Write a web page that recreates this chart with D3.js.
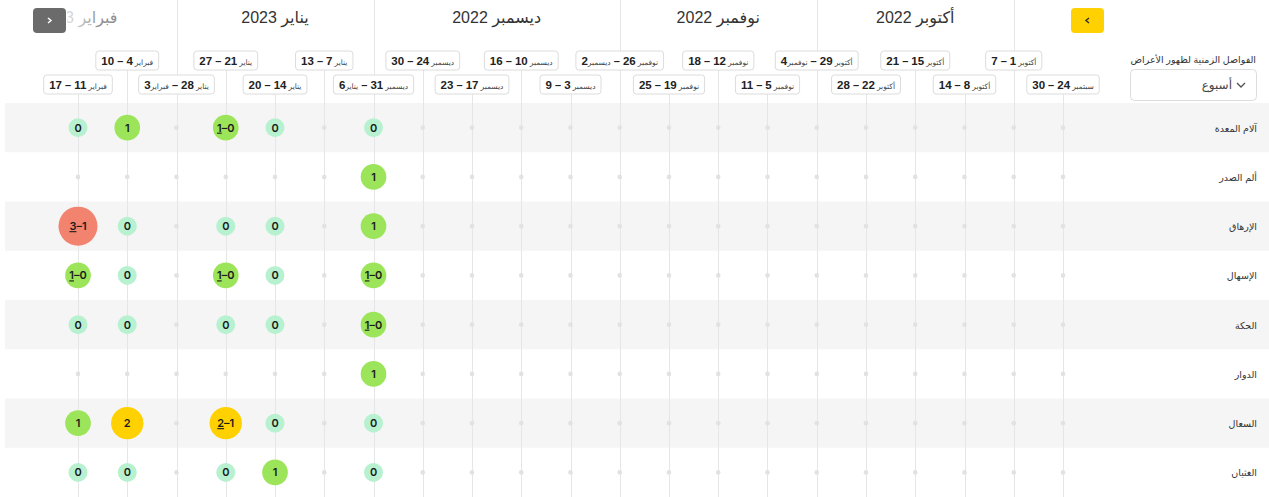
<!DOCTYPE html>
<html lang="ar">
<head>
<meta charset="utf-8">
<script src="https://cdn.jsdelivr.net/npm/d3@7/dist/d3.min.js"></script>
<style>
	body { margin: 0; background: #fff; }
	svg { display: block; font-family: 'Liberation Sans', 'DejaVu Sans', sans-serif; }
</style>
</head>
<body>
<div id="chart"></div>
<script>
// symptoms, top to bottom
var symptoms = ['آلام المعدة', 'ألم الصدر', 'الإرهاق', 'الإسهال', 'الحكة', 'الدوار', 'السعال', 'الغثيان'];

// weeks, oldest first (rightmost in the picture)
var weekStartMonth = ['سبتمبر', 'أكتوبر', 'أكتوبر', 'أكتوبر', 'أكتوبر', 'أكتوبر', 'نوفمبر', 'نوفمبر', 'نوفمبر', 'نوفمبر',
	'ديسمبر', 'ديسمبر', 'ديسمبر', 'ديسمبر', 'ديسمبر', 'يناير', 'يناير', 'يناير', 'يناير', 'فبراير', 'فبراير'];
var weekStartDay = [24, 1, 8, 15, 22, 29, 5, 12, 19, 26, 3, 10, 17, 24, 31, 7, 14, 21, 28, 4, 11];
var weekEndMonth = [null, null, null, null, null, 'نوفمبر', null, null, null, 'ديسمبر',
	null, null, null, null, 'يناير', null, null, null, 'فبراير', null, null];
var weekEndDay = [30, 7, 14, 21, 28, 4, 11, 18, 25, 2, 9, 16, 23, 30, 6, 13, 20, 27, 3, 10, 17];

// month headers and the week where each month starts
var monthLabels = ['أكتوبر 2022', 'نوفمبر 2022', 'ديسمبر 2022', 'يناير 2023', 'فبراير 2023'];
var monthStartWeek = [1, 5, 9, 14, 18];

// reported severity per week as [max, min], null = no entry
var stomachPain = [null, null, null, null, null, null, null, null, null, null, null, null, null, null, [0, 0], null, [0, 0], [1, 0], null, [1, 1], [0, 0]];
var chestPain   = [null, null, null, null, null, null, null, null, null, null, null, null, null, null, [1, 1], null, null, null, null, null, null];
var fatigue     = [null, null, null, null, null, null, null, null, null, null, null, null, null, null, [1, 1], null, [0, 0], [0, 0], null, [0, 0], [3, 1]];
var diarrhea    = [null, null, null, null, null, null, null, null, null, null, null, null, null, null, [1, 0], null, [0, 0], [1, 0], null, [0, 0], [1, 0]];
var itching     = [null, null, null, null, null, null, null, null, null, null, null, null, null, null, [1, 0], null, [0, 0], [0, 0], null, [0, 0], [0, 0]];
var dizziness   = [null, null, null, null, null, null, null, null, null, null, null, null, null, null, [1, 1], null, null, null, null, null, null];
var cough       = [null, null, null, null, null, null, null, null, null, null, null, null, null, null, [0, 0], null, [0, 0], [2, 1], null, [2, 2], [1, 1]];
var nausea      = [null, null, null, null, null, null, null, null, null, null, null, null, null, null, [0, 0], null, [1, 1], [0, 0], null, [0, 0], [0, 0]];

var severity = [stomachPain, chestPain, fatigue, diarrhea, itching, dizziness, cough, nausea];

var severityColors = ['#b7f1d0', '#9ce55a', '#ffd100', '#f2836f'];

var TimelineChart = function (el) {
	'use strict';

	this.width = 1269;
	this.height = 497;
	this.scales = this.setScales();
	this.svg = d3.select(el).append('svg')
		.attr('width', this.width)
		.attr('height', this.height);

	this.addBands();
	this.addGridLines();
	this.addMonths();
	this.addWeekLabels();
	this.addRowLabels();
	this.addCells();
	this.addControls();
};

TimelineChart.prototype = {
	bodyTop: 103,

	setScales: function () {
		return {
			x: d3.scaleLinear().domain([0, weekStartDay.length - 1]).range([1063, 78]),
			y: d3.scaleBand().domain(symptoms).range([this.bodyTop, this.height]),
			r: d3.scaleLinear().domain([0, 3]).range([9.5, 19.5]),
			color: d3.scaleOrdinal().domain([0, 1, 2, 3]).range(severityColors)
		};
	},

	boxTop: function (i) {
		// newest week sits in the lower row, rows alternate from there
		return (weekStartDay.length - 1 - i) % 2 === 0 ? 75 : 51;
	},

	addBands: function () {
		var y = this.scales.y;
		this.svg.append('g')
			.selectAll('rect')
			.data(symptoms.filter(function (d, i) { return i % 2 === 0; }))
			.enter().append('rect')
				.attr('x', 5)
				.attr('y', function (d) { return y(d); })
				.attr('width', this.width - 5)
				.attr('height', y.bandwidth())
				.attr('fill', '#f5f5f5');
	},

	addGridLines: function () {
		var that = this, x = this.scales.x;
		var g = this.svg.append('g').attr('stroke', '#e6e6e6').attr('stroke-width', 1);
		g.selectAll('.week-line')
			.data(weekStartDay)
			.enter().append('line')
				.attr('class', 'week-line')
				.attr('x1', function (d, i) { return Math.round(x(i)) + 0.5; })
				.attr('x2', function (d, i) { return Math.round(x(i)) + 0.5; })
				.attr('y1', function (d, i) { return that.boxTop(i) + 19; })
				.attr('y2', this.height);
		g.selectAll('.month-line')
			.data(monthStartWeek)
			.enter().append('line')
				.attr('class', 'month-line')
				.attr('x1', function (d) { return Math.round(x(d)) + 0.5; })
				.attr('x2', function (d) { return Math.round(x(d)) + 0.5; })
				.attr('y1', 0)
				.attr('y2', function (d) { return that.boxTop(d); });
	},

	addMonths: function () {
		var x = this.scales.x, last = monthLabels.length - 1;
		var defs = this.svg.append('defs');
		var grad = defs.append('linearGradient')
			.attr('id', 'fade')
			.attr('gradientUnits', 'userSpaceOnUse')
			.attr('x1', 66).attr('x2', 100).attr('y1', 0).attr('y2', 0);
		grad.append('stop').attr('offset', 0).attr('stop-color', '#dedede');
		grad.append('stop').attr('offset', 0.35).attr('stop-color', '#cbcbcb');
		grad.append('stop').attr('offset', 1).attr('stop-color', '#8f8f8f');

		// the newest month header is sticky and scrolls under the left button
		defs.append('clipPath').attr('id', 'header-clip')
			.append('rect').attr('x', 67).attr('y', 0).attr('width', 200).attr('height', 40);

		this.svg.append('g')
			.selectAll('text')
			.data(monthLabels)
			.enter().append('text')
				.attr('x', function (d, i) {
					if (i === last) { return x(monthStartWeek[i]) - 59; }
					return x((monthStartWeek[i] + monthStartWeek[i + 1]) / 2);
				})
				.attr('y', 23)
				.attr('text-anchor', function (d, i) { return i === last ? 'start' : 'middle'; })
				.style('direction', 'rtl')
				.attr('font-size', 16)
				.attr('fill', function (d, i) { return i === last ? 'url(#fade)' : '#333'; })
				.attr('clip-path', function (d, i) { return i === last ? 'url(#header-clip)' : null; })
				.text(function (d) { return d; });
	},

	addWeekLabels: function () {
		var that = this, x = this.scales.x;
		var groups = this.svg.append('g')
			.selectAll('g')
			.data(weekStartDay)
			.enter().append('g')
				.attr('transform', function (d, i) { return 'translate(' + x(i) + ',' + that.boxTop(i) + ')'; });

		var box = groups.append('rect')
			.attr('y', 0)
			.attr('height', 19)
			.attr('rx', 3)
			.attr('fill', '#fff')
			.attr('stroke', '#dcdcdc');

		var label = groups.append('text')
			.attr('y', 13.5)
			.attr('text-anchor', 'middle')
			.style('direction', 'rtl')
			.attr('fill', '#222');

		label.each(function (d, i) {
			var t = d3.select(this);
			t.append('tspan').attr('font-size', 7.5).attr('fill', '#444').text(weekStartMonth[i] + ' ');
			t.append('tspan').attr('font-size', 11.5).attr('font-weight', 'bold').text(d);
			t.append('tspan').attr('font-size', 11).attr('font-weight', 'bold').text(' – ');
			if (weekEndMonth[i]) {
				t.append('tspan').attr('font-size', 7.5).attr('fill', '#444').text(weekEndMonth[i]);
			}
			t.append('tspan').attr('font-size', 11.5).attr('font-weight', 'bold').text(weekEndDay[i]);
		});

		box.each(function (d, i) {
			var w = label.nodes()[i].getComputedTextLength() + 11;
			d3.select(this).attr('x', -w / 2).attr('width', w);
		});
	},

	addRowLabels: function () {
		var y = this.scales.y;
		this.svg.append('g')
			.selectAll('text')
			.data(symptoms)
			.enter().append('text')
				.attr('x', 1257)
				.attr('y', function (d) { return y(d) + y.bandwidth() / 2 + 4; })
				.attr('text-anchor', 'end')
				.attr('font-size', 9.5)
				.attr('fill', '#333')
				.text(function (d) { return d; });
	},

	addCells: function () {
		var s = this.scales;
		var rows = this.svg.append('g')
			.selectAll('g')
			.data(severity)
			.enter().append('g')
				.attr('transform', function (d, i) { return 'translate(0,' + (s.y(symptoms[i]) + s.y.bandwidth() / 2) + ')'; });

		var cells = rows.selectAll('g')
			.data(function (d) { return d.map(function (v, i) { return { v: v, i: i }; }); })
			.enter().append('g')
				.attr('transform', function (d) { return 'translate(' + s.x(d.i) + ',0)'; });

		cells.filter(function (d) { return !d.v; })
			.append('circle')
				.attr('r', 2.3)
				.attr('fill', '#e2e2e2');

		var filled = cells.filter(function (d) { return d.v; });
		filled.append('circle')
			.attr('r', function (d) { return s.r(d.v[0]); })
			.attr('fill', function (d) { return s.color(d.v[0]); });

		filled.append('text')
			.attr('y', 4)
			.attr('text-anchor', 'middle')
			.style('direction', 'ltr')
			.attr('font-family', 'Inter, Lato, sans-serif')
			.attr('font-weight', 600)
			.attr('font-size', 11)
			.attr('fill', '#1b1b1b')
			.each(function (d) {
				var t = d3.select(this);
				if (d.v[0] === d.v[1]) {
					t.text(d.v[0]);
					return;
				}
				// highest value first and underlined, then the lowest
				t.append('tspan').style('text-decoration', 'underline').text(d.v[0]);
				t.append('tspan').text('\u2013');
				t.append('tspan').text(d.v[1]);
			});
	},

	addControls: function () {
		var svg = this.svg;
		var buttons = [
			{ x: 33, fill: '#6b6b6b', color: '#fff', arrow: 'M15,10 L18,12.5 L15,15' },
			{ x: 1071, fill: '#ffd100', color: '#333', arrow: 'M18,10 L15,12.5 L18,15' }
		];
		var b = svg.append('g').selectAll('g')
			.data(buttons)
			.enter().append('g')
				.attr('transform', function (d) { return 'translate(' + d.x + ',8)'; });
		b.append('rect')
			.attr('width', 33)
			.attr('height', 25)
			.attr('rx', 4)
			.attr('fill', function (d) { return d.fill; });
		b.append('path')
			.attr('d', function (d) { return d.arrow; })
			.attr('fill', 'none')
			.attr('stroke', function (d) { return d.color; })
			.attr('stroke-width', 1.5);

		svg.append('text')
			.attr('x', 1256)
			.attr('y', 63)
			.attr('text-anchor', 'end')
			.attr('font-size', 9.5)
			.attr('fill', '#333')
			.text('الفواصل الزمنية لظهور الأعراض');

		svg.append('rect')
			.attr('x', 1130.5)
			.attr('y', 69.5)
			.attr('width', 126)
			.attr('height', 31)
			.attr('rx', 4)
			.attr('fill', '#fff')
			.attr('stroke', '#dcdcdc');

		svg.append('text')
			.attr('x', 1232)
			.attr('y', 89)
			.attr('text-anchor', 'end')
			.attr('font-size', 12)
			.attr('fill', '#444')
			.text('أسبوع');

		svg.append('path')
			.attr('d', 'M1237,83 L1241,87 L1245,83')
			.attr('fill', 'none')
			.attr('stroke', '#555')
			.attr('stroke-width', 1.4);
	}
};

new TimelineChart('#chart');
</script>
</body>
</html>
